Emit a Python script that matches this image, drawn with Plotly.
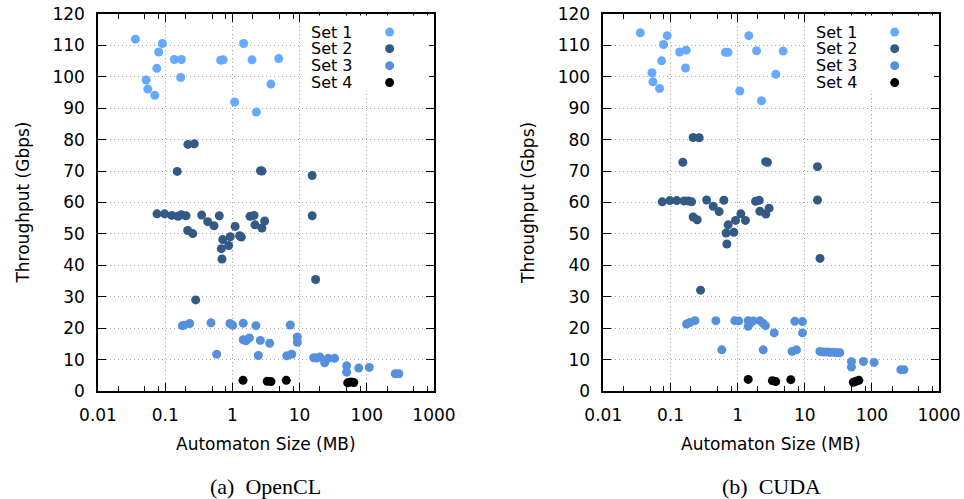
import plotly.graph_objects as go

# ---- OpenCL panel -------------------------------------------------------
ocl_set1_x = [0.036, 0.052, 0.055, 0.070, 0.075, 0.080, 0.091, 0.137, 0.174, 0.170,
              0.67, 0.73, 1.08, 1.47, 1.96, 2.27, 3.75, 4.89]
ocl_set1_y = [112.0, 99.0, 96.1, 94.1, 102.7, 107.9, 110.6, 105.5, 105.5, 99.8,
              105.3, 105.4, 92.0, 110.6, 105.4, 88.8, 97.7, 105.8]

ocl_set2_x = [0.151, 0.218, 0.271, 2.62, 2.76, 15.4,
              0.0755, 0.098, 0.125, 0.155, 0.174, 0.204, 0.216, 0.257, 0.284,
              0.349, 0.429, 0.532, 0.638, 0.718, 0.684, 0.70, 0.88, 0.93,
              1.10, 1.28, 1.36, 1.83, 2.10, 2.17, 2.75, 3.02, 15.4, 17.3]
ocl_set2_y = [69.9, 78.5, 78.7, 70.1, 70.0, 68.6,
              56.4, 56.4, 55.9, 55.6, 56.1, 55.8, 51.1, 50.1, 29.0,
              56.0, 53.9, 52.6, 55.8, 48.2, 45.3, 42.0, 46.3, 49.1,
              52.4, 49.4, 49.0, 55.6, 55.9, 52.9, 51.9, 54.1, 55.8, 35.5]

ocl_set3_x = [0.18, 0.19, 0.231, 0.48, 0.584, 0.92, 1.01, 1.45, 1.45, 1.59,
              1.79, 2.24, 2.43, 2.60, 3.59, 7.28, 9.25, 9.25, 6.43, 7.62,
              16.2, 17.9, 20.1, 23.6, 26.7, 33.2, 50.2, 50.2, 75.8, 109, 265, 300]
ocl_set3_y = [20.8, 20.9, 21.5, 21.7, 11.7, 21.5, 20.9, 21.6, 16.3, 16.0,
              16.9, 20.8, 11.3, 16.1, 15.2, 21.0, 17.2, 15.5, 11.2, 11.7,
              10.6, 10.5, 10.8, 9.0, 10.4, 10.4, 8.0, 6.0, 7.3, 7.5, 5.5, 5.5]

ocl_set4_x = [1.44, 3.3, 3.75, 6.34, 52, 58, 64]
ocl_set4_y = [3.4, 3.1, 3.0, 3.4, 2.6, 2.9, 2.7]

# ---- CUDA panel ---------------------------------------------------------
cuda_set1_x = [0.0356, 0.0531, 0.055, 0.069, 0.074, 0.079, 0.0896, 0.137, 0.172, 0.168,
               0.66, 0.72, 1.08, 1.47, 1.92, 4.78, 3.71, 2.27]
cuda_set1_y = [114.0, 101.3, 98.4, 96.3, 105.1, 110.3, 113.1, 107.9, 108.5, 102.8,
               107.8, 107.8, 95.5, 113.1, 108.3, 108.2, 100.8, 92.4]

cuda_set2_x = [0.153, 0.218, 0.268, 2.62, 2.78, 15.5,
               0.0755, 0.098, 0.124, 0.159, 0.184, 0.207, 0.218, 0.25, 0.281,
               0.346, 0.434, 0.532, 0.625, 0.724, 0.676, 0.693, 0.88, 0.933,
               1.12, 1.31, 1.86, 2.10, 2.15, 2.64, 2.95, 15.5, 16.9]
cuda_set2_y = [72.8, 80.7, 80.6, 73.0, 72.8, 71.4,
               60.2, 60.6, 60.6, 60.5, 60.5, 60.2, 55.4, 54.5, 32.1,
               60.8, 58.8, 57.1, 60.7, 52.9, 50.3, 46.8, 50.5, 54.3,
               56.4, 54.3, 60.4, 60.7, 57.2, 56.3, 58.2, 60.8, 42.2]

cuda_set3_x = [0.174, 0.195, 0.232, 0.475, 0.583, 0.91, 1.04, 1.44, 1.44, 1.52,
               1.71, 2.15, 2.38, 2.60, 3.51, 2.41, 6.48, 7.55, 7.13, 9.27, 9.27,
               16.8, 19, 21.5, 24, 27, 30, 33.3, 49.7, 49.7, 75, 108, 270, 300]
cuda_set3_y = [21.3, 21.8, 22.4, 22.4, 13.1, 22.4, 22.3, 22.4, 20.6, 21.6,
               22.3, 22.4, 21.6, 20.8, 18.5, 13.1, 12.6, 13.1, 22.2, 22.1, 18.5,
               12.6, 12.4, 12.4, 12.3, 12.3, 12.2, 12.2, 9.3, 7.6, 9.4, 9.1, 6.8, 6.8]

cuda_set4_x = [1.44, 3.3, 3.7, 6.21, 53, 58, 64]
cuda_set4_y = [3.7, 3.3, 3.0, 3.6, 2.8, 3.1, 3.4]

series_names = ["Set 1", "Set 2", "Set 3", "Set 4"]
series_colors = ["#66aaff", "#335a85", "#5590dd", "#000000"]

x_tickvals = [0.01, 0.1, 1, 10, 100, 1000]
x_ticktext = ["0.01", "0.1", "1", "10", "100", "1000"]
x_minor_vals = [m * 10 ** k for k in range(-2, 3) for m in (2, 5, 8)]
y_tickvals = list(range(0, 121, 10))

panels = [
    ("x", "y", [(ocl_set1_x, ocl_set1_y), (ocl_set2_x, ocl_set2_y),
                (ocl_set3_x, ocl_set3_y), (ocl_set4_x, ocl_set4_y)], "(a)  OpenCL"),
    ("x2", "y2", [(cuda_set1_x, cuda_set1_y), (cuda_set2_x, cuda_set2_y),
                  (cuda_set3_x, cuda_set3_y), (cuda_set4_x, cuda_set4_y)], "(b)  CUDA"),
]

SANS = "DejaVu Sans"
SERIF = "Liberation Serif"
MARKER = 9
PLOT_W = 336.0   # pixel width of one panel
PLOT_H = 377.0   # pixel height of one panel
GRID_DASH = "1px,3px"

fig = go.Figure()
for xa, ya, sets, _ in panels:
    for (xs, ys), name, color in zip(sets, series_names, series_colors):
        fig.add_trace(go.Scatter(
            x=xs, y=ys, mode="markers", name=name, xaxis=xa, yaxis=ya,
            showlegend=False,
            marker=dict(symbol="circle", size=MARKER, color=color, line=dict(width=0)),
        ))

xaxis_style = dict(
    type="log", range=[-2, 3], tickmode="array", tickvals=x_tickvals, ticktext=x_ticktext,
    ticks="inside", ticklen=8, tickwidth=1, tickcolor="#000",
    minor=dict(tickmode="array", tickvals=x_minor_vals, ticks="inside", ticklen=5,
               tickcolor="#000", showgrid=False),
    showline=True, linecolor="#000", linewidth=1.5, mirror="ticks",
    showgrid=True, gridcolor="#a8a8a8", griddash=GRID_DASH, gridwidth=1,
    zeroline=False, ticklabelstandoff=8, automargin=False,
    tickfont=dict(family=SANS, size=17, color="#000"),
)
yaxis_style = dict(
    range=[0, 120], tickmode="array", tickvals=y_tickvals,
    ticks="inside", ticklen=8, tickwidth=1, tickcolor="#000",
    showline=True, linecolor="#000", linewidth=1.5, mirror="ticks",
    showgrid=True, gridcolor="#a8a8a8", griddash=GRID_DASH, gridwidth=1,
    zeroline=False, ticklabelstandoff=8, automargin=False,
    tickfont=dict(family=SANS, size=17, color="#000"),
)

left_dom = [0, 0.3995]
right_dom = [0.6008, 1]
fig.update_layout(
    width=964, height=499,
    margin=dict(l=98, r=25, t=14, b=108, autoexpand=False),
    paper_bgcolor="white", plot_bgcolor="white",
    showlegend=False,
    xaxis=dict(domain=left_dom, anchor="y", **xaxis_style),
    yaxis=dict(domain=[0, 1], anchor="x", **yaxis_style),
    xaxis2=dict(domain=right_dom, anchor="y2", **xaxis_style),
    yaxis2=dict(domain=[0, 1], anchor="x2", **yaxis_style),
)

shapes = []
annotations = []
legend_rows = [0.952, 0.908, 0.863, 0.818]
rx = MARKER / 2 / PLOT_W
ry = MARKER / 2 / PLOT_H
for xa, ya, _, caption in panels:
    xd = f"{xa} domain"
    yd = f"{ya} domain"
    # opaque key box hiding the grid behind the key
    shapes.append(dict(type="rect", xref=xd, yref=yd, x0=0.607, x1=0.985, y0=0.797, y1=0.996,
                       fillcolor="white", line=dict(width=0), layer="above"))
    for row, name, color in zip(legend_rows, series_names, series_colors):
        annotations.append(dict(xref=xd, yref=yd, x=0.765, y=row, text=name,
                                showarrow=False, xanchor="right", yanchor="middle",
                                font=dict(family=SANS, size=16, color="#000")))
        shapes.append(dict(type="circle", xref=xd, yref=yd,
                           x0=0.868 - rx, x1=0.868 + rx, y0=row - ry, y1=row + ry,
                           fillcolor=color, line=dict(width=0), layer="above"))
    annotations.append(dict(xref=xd, yref=yd, x=0.5, y=-0.14, text="Automaton Size (MB)",
                            showarrow=False, xanchor="center", yanchor="middle",
                            font=dict(family=SANS, size=17, color="#000")))
    annotations.append(dict(xref=xd, yref=yd, x=0.5, y=-0.252, text=caption,
                            showarrow=False, xanchor="center", yanchor="middle",
                            font=dict(family=SERIF, size=22, color="#000")))
    annotations.append(dict(xref=xd, yref=yd, x=-0.226, y=0.5, text="Throughput (Gbps)",
                            textangle=-90, showarrow=False, xanchor="center",
                            yanchor="middle",
                            font=dict(family=SANS, size=17, color="#000")))

fig.update_layout(shapes=shapes, annotations=annotations)
fig.write_html("out.html")
